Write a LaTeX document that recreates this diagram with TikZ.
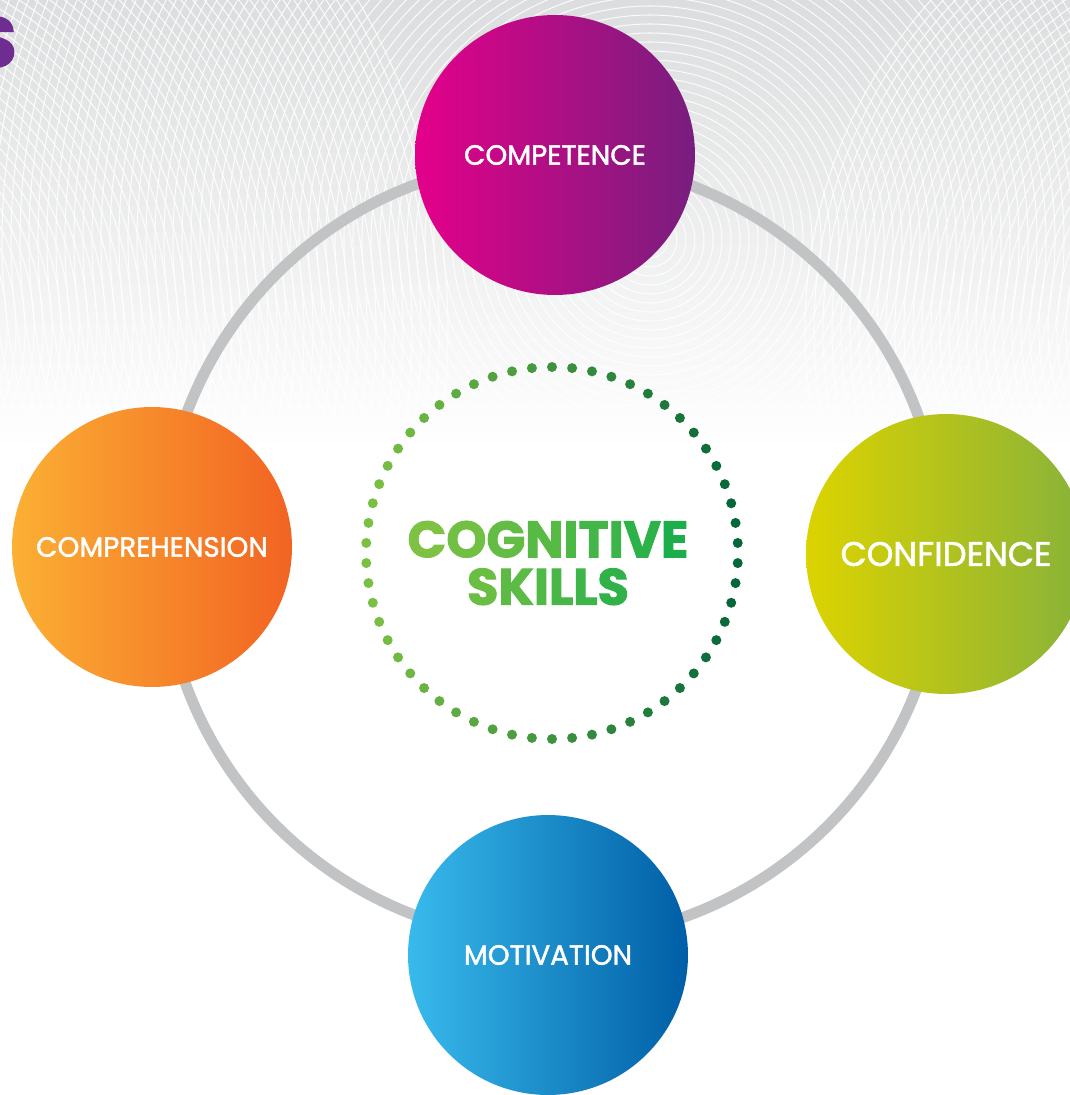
\documentclass[tikz,border=0pt]{standalone}
\usepackage{fontspec}
\setmainfont{Poppins}
\newfontfamily\labelfont[FakeBold=1.6]{Poppins}
\newfontfamily\titlefont[FakeBold=2]{Poppins Bold}
\usetikzlibrary{positioning}

\definecolor{backgray}{HTML}{DCDDDE}
\definecolor{ringgray}{HTML}{C2C3C4}
\definecolor{headpurple}{HTML}{6F2C91}
\definecolor{dotlight}{HTML}{7AC143}
\definecolor{dotdark}{HTML}{04663A}
\definecolor{titleleft}{HTML}{7DC242}
\definecolor{titleright}{HTML}{17AD4B}
% one letter of the title, tinted by its place from left (0) to right (100)
\newcommand\tint[2]{\textcolor{titleright!#1!titleleft}{#2}}

\begin{document}
\begin{tikzpicture}[x=0.02cm, y=-0.02cm,
  every node/.style={font=\labelfont\fontsize{15.8}{18}\selectfont, text=white},
  skill/.style={circle, minimum size=5.6cm, inner sep=0pt},
  ripple/.style={white, line width=0.6pt, opacity=0.85}]
\useasboundingbox (0,0) rectangle (1070,1095);
\clip (0,0) rectangle (1070,1095);

% backdrop: grey band with rings, fading into white
\fill[white] (0,0) rectangle (1070,1095);
\shade[top color=backgray, middle color=backgray!70, bottom color=white] (0,0) rectangle (1070,450);
\begin{scope}
  \clip (0,0) rectangle (1070,450);
  \foreach \r in {9,18,...,900} \draw[ripple] (650,240) circle (\r);
  \foreach \r in {9,18,...,650} \draw[ripple] (-200,330) circle (\r);
  \foreach \r in {9,18,...,500} \draw[ripple] (1300,330) circle (\r);
\end{scope}
\node[anchor=east, inner sep=0pt, text=headpurple, font=\titlefont\fontsize{40}{40}\selectfont] (heading) at (17,42) {S};

% centre and the big ring
\coordinate (hub) at (552,550);
\draw[ringgray, line width=0.22cm] (hub) circle (390);

% dotted ring round the title
\foreach \i in {0,...,57} {
  \pgfmathsetmacro\ang{90-\i/58*360}
  \pgfmathtruncatemacro\pct{50+50*cos(\ang)}
  \fill[dotdark!\pct!dotlight, shift={(552,553)}] (\ang:186) circle (5);
}
\node[font=\titlefont\fontsize{29}{27}\selectfont, align=center] (title) at (548,563)
  {\tint{0}{C}\tint{12}{O}\tint{25}{G}\tint{38}{N}\tint{48}{I}\tint{56}{T}\tint{65}{I}\tint{78}{V}\tint{95}{E}\\
   \tint{18}{S}\tint{32}{K}\tint{43}{I}\tint{52}{L}\tint{62}{L}\tint{75}{S}};

% the four skills
\node[skill, left color={rgb,255:red,228;green,0;blue,138}, right color={rgb,255:red,120;green,30;blue,126}] (competence) at (555,155) {COMPETENCE};
\node[skill, left color={rgb,255:red,251;green,176;blue,52}, right color={rgb,255:red,242;green,99;blue,34}] (comprehension) at (152,547) {COMPREHENSION};
\node[skill, left color={rgb,255:red,220;green,211;blue,0}, right color={rgb,255:red,136;green,178;blue,58}, font=\labelfont\fontsize{19.3}{20}\selectfont] (confidence) at (946,554) {CONFIDENCE};
\node[skill, left color={rgb,255:red,56;green,186;blue,236}, middle color={rgb,255:red,0;green,148;blue,210}, right color={rgb,255:red,0;green,94;blue,166}] (motivation) at (548,955) {MOTIVATION};
\end{tikzpicture}
\end{document}
